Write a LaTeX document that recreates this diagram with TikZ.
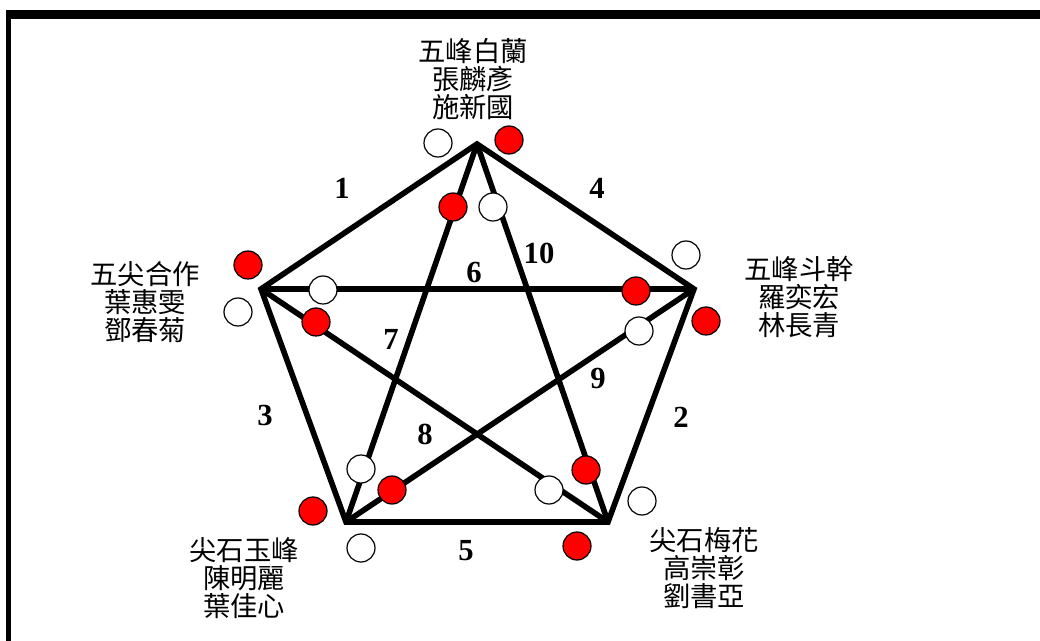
\documentclass[tikz,border=0pt]{standalone}
\usepackage{fontspec}
\newfontfamily\cjk{Noto Sans CJK TC}
\newfontfamily\numfont{Liberation Serif}

\begin{document}
\begin{tikzpicture}[x=0.75pt, y=-0.75pt,
  edge/.style={line width=4.2pt, line join=miter},
  ball/.style={circle, draw=black, line width=0.9pt, minimum size=21pt, inner sep=0pt},
  redball/.style={ball, fill=red},
  whiteball/.style={ball, fill=white},
  team/.style={font=\cjk\fontsize{20.5}{21}\selectfont, align=center, inner sep=0pt},
  num/.style={font=\numfont\bfseries\fontsize{23}{23}\selectfont, inner sep=0pt}]
\useasboundingbox (0,0) rectangle (1040,641);
\fill[white] (0,0) rectangle (1040,641);
% frame
\fill[black] (6,10) rectangle (1040,19);
\fill[black] (6,10) rectangle (11,641);

% vertices
\coordinate (T)  at (477,144);
\coordinate (L)  at (261,289);
\coordinate (R)  at (694,289);
\coordinate (BL) at (346,522);
\coordinate (BR) at (608,522);

% pentagon and star
\draw[edge] (T) -- (R) -- (BR) -- (BL) -- (L) -- cycle;
\draw[edge] (L) -- (R);
\draw[edge] (T) -- (BL);
\draw[edge] (T) -- (BR);
\draw[edge] (L) -- (BR);
\draw[edge] (R) -- (BL);

% edge numbers
\node[num] (n1)  at (342,188) {1};
\node[num] (n2)  at (681,417) {2};
\node[num] (n3)  at (265,415) {3};
\node[num] (n4)  at (597,188) {4};
\node[num] (n5)  at (466,551) {5};
\node[num] (n6)  at (474,273) {6};
\node[num] (n7)  at (391,339) {7};
\node[num] (n8)  at (425,434) {8};
\node[num] (n9)  at (598,378) {9};
\node[num] (n10) at (539,253) {10};

% balls near top
\node[whiteball] (tw1) at (438,143) {};
\node[redball]   (tr1) at (509,140) {};
\node[redball]   (tr2) at (453,207) {};
\node[whiteball] (tw2) at (493,207) {};
% balls near left
\node[redball]   (lr1) at (248,265) {};
\node[whiteball] (lw1) at (238,312) {};
\node[whiteball] (lw2) at (323,290) {};
\node[redball]   (lr2) at (316,322) {};
% balls near right
\node[whiteball] (rw1) at (686,255) {};
\node[redball]   (rr1) at (706,321) {};
\node[redball]   (rr2) at (636,291) {};
\node[whiteball] (rw2) at (639,331) {};
% balls near bottom left
\node[whiteball] (blw1) at (361,469) {};
\node[redball]   (blr1) at (392,490) {};
\node[redball]   (blr2) at (313,511) {};
\node[whiteball] (blw2) at (361,548) {};
% balls near bottom right
\node[redball]   (brr1) at (586,470) {};
\node[whiteball] (brw1) at (549,490) {};
\node[whiteball] (brw2) at (642,501) {};
\node[redball]   (brr2) at (577,546) {};

% team names
\node[team] (top)   at (473,79)  {五峰白蘭\\張麟彥\\施新國};
\node[team] (left)  at (145,302) {五尖合作\\葉惠雯\\鄧春菊};
\node[team] (right) at (799,297) {五峰斗幹\\羅奕宏\\林長青};
\node[team] (botl)  at (244,578) {尖石玉峰\\陳明麗\\葉佳心};
\node[team] (botr)  at (704,568) {尖石梅花\\高崇彰\\劉書亞};
\end{tikzpicture}
\end{document}
